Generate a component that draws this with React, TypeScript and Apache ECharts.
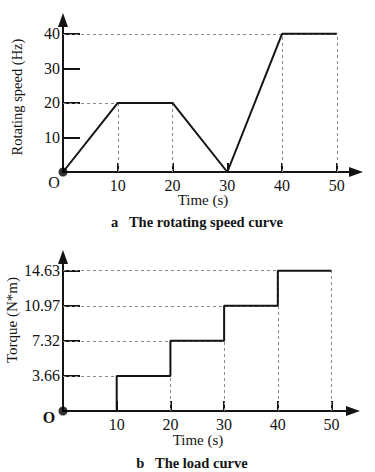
import React, { useEffect, useRef } from "react";
import * as echarts from "echarts";

const timeTicks = [10, 20, 30, 40, 50];
const speedTicks = [10, 20, 30, 40];
const speedTimes = [0, 10, 20, 30, 40, 50];
const speedValues = [0, 20, 20, 0, 40, 40];

const stepTimes = [10, 20, 30, 40, 50];
const torqueLevels = [3.66, 7.32, 10.97, 14.63];

const FONT = '"Liberation Serif", "Times New Roman", serif';
const INK = "#141414";
const DASH = "#8a8a8a";

function guides(pts: number[][]) {
  const out: any[] = [];
  const levels = Array.from(new Set(pts.map((p) => p[1]).filter((v) => v > 0)));
  levels.forEach((lv) => {
    const xs = pts.filter((p) => p[1] === lv).map((p) => p[0]);
    out.push([{ coord: [0, lv] }, { coord: [Math.max(...xs), lv] }]);
  });
  const xsAll = Array.from(new Set(pts.map((p) => p[0])));
  xsAll.forEach((x) => {
    const ys = pts.filter((p) => p[0] === x).map((p) => p[1]);
    const top = Math.max(...ys);
    if (top > 0 && x > 0) out.push([{ coord: [x, 0] }, { coord: [x, top] }]);
  });
  return out;
}

export default function App() {
  const ref = useRef<HTMLDivElement>(null);
  useEffect(() => {
    if (!ref.current) return;
    const chart = echarts.init(ref.current, null, { renderer: "svg" });

    const speedPts = speedTimes.map((t, i) => [t, speedValues[i]]);
    const stepPts: number[][] = [];
    stepTimes.forEach((t, i) => {
      if (i === 0) stepPts.push([t, 0]);
      else stepPts.push([t, torqueLevels[i - 1]]);
      if (i < torqueLevels.length) stepPts.push([t, torqueLevels[i]]);
    });

    const axisLine = {
      show: true,
      symbol: ["none", "triangle"],
      symbolSize: [10, 14],
      lineStyle: { color: INK, width: 2 },
    };
    const label = { color: INK, fontFamily: FONT, fontSize: 16 };

    const option: any = {
      animation: false,
      grid: [
        { left: 63, right: 19, top: 20, bottom: 300 },
        { left: 63, right: 22, top: 257, bottom: 61 },
      ],
      xAxis: [
        {
          gridIndex: 0, type: "value", min: 0, max: 53.5,
          axisLine,
          axisTick: { show: true, inside: true, length: 9, customValues: timeTicks, lineStyle: { color: INK, width: 2 } },
          axisLabel: { ...label, margin: 5, customValues: timeTicks },
          splitLine: { show: false },
        },
        {
          gridIndex: 1, type: "value", min: 0, max: 54,
          axisLine,
          axisTick: { show: true, inside: true, length: 10, customValues: timeTicks, lineStyle: { color: INK, width: 2 } },
          axisLabel: { ...label, margin: 5, customValues: timeTicks },
          splitLine: { show: false },
        },
      ],
      yAxis: [
        {
          gridIndex: 0, type: "value", min: 0, max: 44,
          axisLine,
          axisTick: { show: true, inside: true, length: 17, customValues: speedTicks, lineStyle: { color: INK, width: 2 } },
          axisLabel: { ...label, margin: 3, customValues: speedTicks },
          splitLine: { show: false },
        },
        {
          gridIndex: 1, type: "value", min: 0, max: 16.06,
          axisLine,
          axisTick: { show: true, inside: true, length: 17, customValues: torqueLevels, lineStyle: { color: INK, width: 2 } },
          axisLabel: { ...label, margin: 3, customValues: torqueLevels, formatter: (v: number) => v.toFixed(2) },
          splitLine: { show: false },
        },
      ],
      series: [
        {
          type: "line", xAxisIndex: 0, yAxisIndex: 0, data: speedPts, showSymbol: false,
          lineStyle: { color: INK, width: 2 }, z: 3,
          markLine: {
            silent: true, symbol: "none", label: { show: false },
            lineStyle: { color: DASH, width: 1, type: [3, 3] },
            data: guides(speedPts), z: 1,
          },
        },
        {
          type: "scatter", xAxisIndex: 0, yAxisIndex: 0, data: [[speedTimes[0], speedValues[0]]],
          symbolSize: 9, itemStyle: { color: "#000" }, z: 5,
        },
        {
          type: "line", xAxisIndex: 1, yAxisIndex: 1, data: stepPts, showSymbol: false,
          lineStyle: { color: INK, width: 2 }, z: 3,
          markLine: {
            silent: true, symbol: "none", label: { show: false },
            lineStyle: { color: DASH, width: 1, type: [3, 3] },
            data: guides(stepPts), z: 1,
          },
        },
        {
          type: "scatter", xAxisIndex: 1, yAxisIndex: 1, data: [[0, 0]],
          symbolSize: 9, itemStyle: { color: "#000" }, z: 5,
        },
      ],
      graphic: [
        { type: "text", x: 17, y: 97, rotation: Math.PI / 2, style: { text: "Rotating speed (Hz)", font: `14.5px ${FONT}`, fill: INK, align: "center", verticalAlign: "middle" } },
        { type: "text", x: 54, y: 182, style: { text: "O", font: `16px ${FONT}`, fill: INK, align: "center", verticalAlign: "middle" } },
        { type: "text", x: 203, y: 200, style: { text: "Time (s)", font: `15px ${FONT}`, fill: INK, align: "center", verticalAlign: "middle" } },
        { type: "text", x: 197, y: 222, style: { text: "a   The rotating speed curve", font: `bold 14.5px ${FONT}`, fill: INK, align: "center", verticalAlign: "middle" } },
        { type: "text", x: 12, y: 320, rotation: Math.PI / 2, style: { text: "Torque (N*m)", font: `15px ${FONT}`, fill: INK, align: "center", verticalAlign: "middle" } },
        { type: "text", x: 49, y: 417, style: { text: "O", font: `bold 16px ${FONT}`, fill: INK, align: "center", verticalAlign: "middle" } },
        { type: "text", x: 198, y: 440, style: { text: "Time (s)", font: `15px ${FONT}`, fill: INK, align: "center", verticalAlign: "middle" } },
        { type: "text", x: 192, y: 463, style: { text: "b   The load curve", font: `bold 14.5px ${FONT}`, fill: INK, align: "center", verticalAlign: "middle" } },
      ],
    };
    chart.setOption(option);
    return () => chart.dispose();
  }, []);
  return <div ref={ref} style={{ position: "fixed", left: 0, top: 0, width: 375, height: 472, background: "#fff" }} />;
}
